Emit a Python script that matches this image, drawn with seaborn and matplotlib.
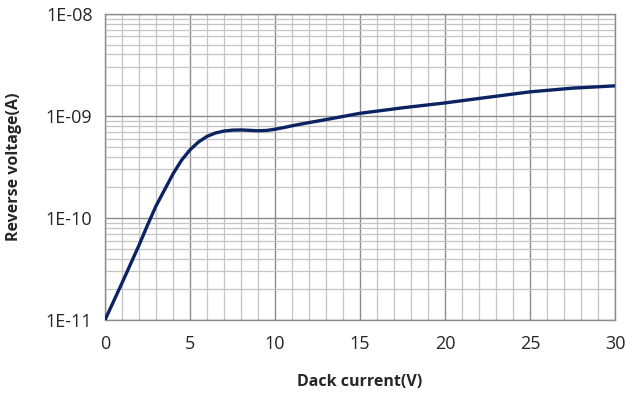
import matplotlib
matplotlib.use("Agg")
import matplotlib.pyplot as plt
import matplotlib.ticker as ticker
import numpy as np
import pandas as pd
import seaborn as sns

# data
voltage = [0, 1, 2, 2.5, 3, 3.5, 4, 4.5, 5, 5.5, 6, 6.5, 7, 7.5, 8, 8.5, 9, 9.5, 10, 10.5, 11,
           12, 13, 15, 17.5, 20, 22.5, 25, 27.5, 30]
current = [1.0e-11, 2.3e-11, 5.4e-11, 8.5e-11, 1.31e-10, 1.88e-10, 2.7e-10, 3.67e-10, 4.65e-10,
           5.55e-10, 6.3e-10, 6.8e-10, 7.1e-10, 7.25e-10, 7.28e-10, 7.22e-10, 7.15e-10,
           7.2e-10, 7.4e-10, 7.67e-10, 8.0e-10, 8.6e-10, 9.2e-10, 1.06e-9, 1.2e-9,
           1.34e-9, 1.52e-9, 1.72e-9, 1.87e-9, 1.97e-9]
y_ticks = [1e-11, 1e-10, 1e-9, 1e-8]
x_ticks = [0, 5, 10, 15, 20, 25, 30]

df = pd.DataFrame({"voltage": voltage, "current": current})

sns.set_style("white")
plt.rcParams["font.family"] = ["Open Sans", "DejaVu Sans"]

fig = plt.figure(figsize=(6.25, 3.96), dpi=100)
ax = fig.add_axes([0.168, 0.192, 0.816, 0.773])

sns.lineplot(data=df, x="voltage", y="current", color="#0b2363", linewidth=2.4, ax=ax, zorder=5)

ax.set_yscale("log")
ax.set_xlim(0, 30)
ax.set_ylim(1e-11, 1e-8)
ax.set_xticks(x_ticks)
ax.set_yticks(y_ticks)
ax.xaxis.set_minor_locator(ticker.MultipleLocator(1))
ax.yaxis.set_minor_locator(ticker.LogLocator(base=10, subs=np.arange(2, 10)))
ax.yaxis.set_minor_formatter(ticker.NullFormatter())
ax.yaxis.set_major_formatter(ticker.FuncFormatter(lambda v, _: f"{v:.0E}"))

ax.grid(which="major", color="#8c8c8c", linewidth=1.0)
ax.grid(which="minor", color="#c4c4c4", linewidth=0.9)
ax.set_axisbelow(True)

for s in ax.spines.values():
    s.set_color("#8c8c8c")
    s.set_linewidth(1.0)

ax.tick_params(axis="y", which="major", length=5, color="#8c8c8c", labelsize=13, pad=4)
ax.tick_params(axis="y", which="minor", length=0)
ax.tick_params(axis="x", which="both", length=0, labelsize=13, pad=11)

ax.set_xlabel("Dack current(V)", fontsize=11.5, fontweight="bold", labelpad=15)
ax.set_ylabel("Reverse voltage(A)", fontsize=11.5, fontweight="bold", labelpad=17)

fig.savefig("out.png", dpi=100, facecolor="white")
